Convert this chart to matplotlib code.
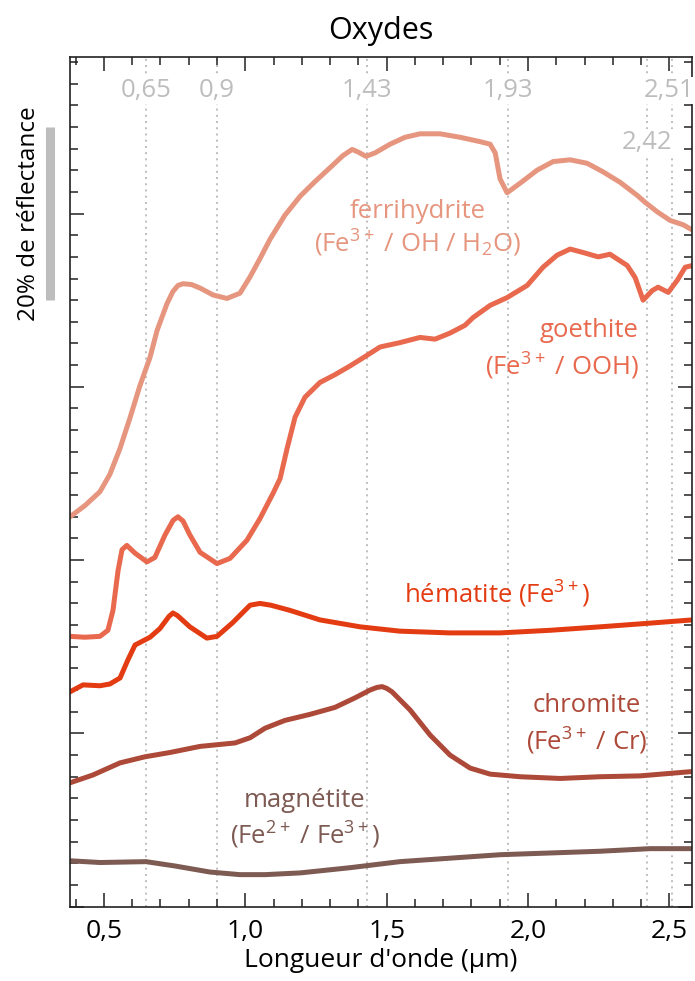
import numpy as np
import matplotlib
matplotlib.use("Agg")
import matplotlib.pyplot as plt
from matplotlib.ticker import MultipleLocator, FixedLocator
import matplotlib.transforms as mtransforms

plt.rcParams['font.family'] = ['Open Sans', 'DejaVu Sans']
plt.rcParams['mathtext.fontset'] = 'custom'
plt.rcParams['mathtext.rm'] = 'Open Sans'
plt.rcParams['mathtext.it'] = 'Open Sans:italic'

# spectres (longueur d'onde en µm, réflectance en % décalée)
ferri_x = [0.380, 0.433, 0.486, 0.521, 0.557, 0.592, 0.627, 0.663, 0.688, 0.723,
           0.744, 0.762, 0.780, 0.810, 0.840, 0.886, 0.935, 0.981, 1.017, 1.052,
           1.087, 1.140, 1.194, 1.247, 1.300, 1.346, 1.378, 1.399, 1.427, 1.459,
           1.512, 1.565, 1.618, 1.689, 1.760, 1.830, 1.866, 1.884, 1.901, 1.926,
           1.972, 2.032, 2.089, 2.149, 2.209, 2.266, 2.326, 2.386, 2.414, 2.457,
           2.503, 2.549, 2.581]
ferri_y = [45.0, 46.3, 47.9, 49.9, 52.9, 56.4, 60.1, 63.4, 66.5, 69.6,
           71.0, 71.7, 71.9, 71.8, 71.4, 70.6, 70.2, 70.8, 72.7, 74.8,
           77.0, 79.8, 82.0, 83.7, 85.3, 86.7, 87.4, 87.1, 86.6, 87.0,
           88.0, 88.8, 89.2, 89.2, 88.8, 88.3, 88.0, 87.0, 84.0, 82.4,
           83.5, 85.0, 86.0, 86.2, 85.8, 84.8, 83.6, 82.1, 81.3, 80.2,
           79.2, 78.7, 78.1]

goe_x = [0.380, 0.433, 0.486, 0.514, 0.532, 0.550, 0.564, 0.581, 0.610, 0.652,
         0.680, 0.716, 0.745, 0.762, 0.780, 0.804, 0.840, 0.900, 0.946, 1.006,
         1.052, 1.098, 1.123, 1.148, 1.176, 1.211, 1.264, 1.317, 1.370, 1.424,
         1.477, 1.547, 1.618, 1.671, 1.724, 1.777, 1.806, 1.866, 1.926, 1.997,
         2.053, 2.103, 2.149, 2.195, 2.248, 2.290, 2.351, 2.379, 2.407, 2.439,
         2.460, 2.496, 2.528, 2.556, 2.581]
goe_y = [31.2, 31.1, 31.2, 31.9, 34.2, 38.8, 41.2, 41.7, 40.8, 39.8,
         40.3, 42.9, 44.6, 45.0, 44.5, 42.9, 40.9, 39.6, 40.2, 42.3,
         44.8, 47.7, 49.4, 52.9, 56.5, 58.8, 60.5, 61.4, 62.4, 63.5,
         64.6, 65.1, 65.7, 65.5, 66.2, 67.1, 68.0, 69.4, 70.3, 71.7,
         73.8, 75.2, 75.9, 75.5, 75.0, 75.3, 74.0, 72.6, 70.0, 71.1,
         71.5, 70.9, 72.3, 73.8, 74.0]

hem_x = [0.380, 0.426, 0.486, 0.521, 0.557, 0.585, 0.610, 0.663, 0.698, 0.730,
         0.744, 0.760, 0.804, 0.864, 0.900, 0.956, 1.017, 1.052, 1.090, 1.158,
         1.264, 1.406, 1.547, 1.724, 1.901, 2.078, 2.255, 2.421, 2.581]
hem_y = [24.8, 25.6, 25.5, 25.7, 26.4, 28.5, 30.2, 31.1, 32.1, 33.5,
         33.9, 33.6, 32.3, 31.0, 31.2, 32.8, 34.8, 35.0, 34.8, 34.2,
         33.1, 32.3, 31.8, 31.6, 31.6, 31.9, 32.3, 32.7, 33.1]

chr_x = [0.380, 0.461, 0.557, 0.645, 0.734, 0.840, 0.964, 1.017, 1.070, 1.140,
         1.229, 1.317, 1.388, 1.441, 1.465, 1.484, 1.500, 1.519, 1.583, 1.654,
         1.724, 1.795, 1.866, 1.972, 2.114, 2.255, 2.397, 2.581]
chr_y = [14.3, 15.2, 16.6, 17.3, 17.8, 18.5, 18.9, 19.5, 20.6, 21.5,
         22.2, 23.0, 24.1, 25.0, 25.3, 25.4, 25.2, 24.8, 22.7, 19.8,
         17.5, 16.0, 15.3, 15.0, 14.8, 15.0, 15.1, 15.6]

mag_x = [0.380, 0.486, 0.649, 0.751, 0.875, 0.981, 1.070, 1.194, 1.370, 1.547,
         1.724, 1.901, 2.078, 2.255, 2.432, 2.581]
mag_y = [5.3, 5.1, 5.2, 4.7, 4.0, 3.7, 3.7, 3.9, 4.5, 5.2,
         5.6, 6.0, 6.2, 6.4, 6.7, 6.7]

# bandes d'absorption repérées
bands = [0.65, 0.9, 1.43, 1.93, 2.42, 2.51]
band_labels = ['0,65', '0,9', '1,43', '1,93', '2,42', '2,51']

colors = {'ferri': '#e6957f', 'goe': '#e8694d', 'hem': '#e43c12',
          'chr': '#ad4938', 'mag': '#7d5a52'}
grey = '#bdbdbd'

fig = plt.figure(figsize=(6.95, 9.81), dpi=100)
ax = fig.add_axes([70 / 695, 1 - 906.7 / 981, 622 / 695, 850 / 981])

for b, lab in zip(bands, band_labels):
    ax.axvline(b, color=grey, lw=1.4, ls=(0, (1, 2.2)), zorder=1)
    ly = 88.2 if lab == '2,42' else 94.2
    lx = b - 0.012 if lab == '2,51' else b
    ax.text(lx, ly, lab, color=grey, fontsize=18.5, ha='center', va='center', zorder=3,
            bbox=dict(boxstyle='square,pad=0.05', fc='white', ec='none'))

lw = 3.6
for xs, ys, key in [(ferri_x, ferri_y, 'ferri'), (goe_x, goe_y, 'goe'), (hem_x, hem_y, 'hem'),
                    (chr_x, chr_y, 'chr'), (mag_x, mag_y, 'mag')]:
    ax.plot(xs, ys, color=colors[key], lw=lw, solid_joinstyle='round', zorder=2)

fs = 18.5
ax.text(1.608, 80.2, 'ferrihydrite', color=colors['ferri'], fontsize=fs, ha='center', va='center')
ax.text(1.608, 76.6, '(Fe$^{3+}$ / OH / H$_2$O)', color=colors['ferri'], fontsize=fs, ha='center', va='center')
ax.text(2.39, 66.5, 'goethite', color=colors['goe'], fontsize=fs, ha='right', va='center')
ax.text(2.39, 62.3, '(Fe$^{3+}$ / OOH)', color=colors['goe'], fontsize=fs, ha='right', va='center')
ax.text(1.891, 36.1, 'hématite (Fe$^{3+}$)', color=colors['hem'], fontsize=fs, ha='center', va='center')
ax.text(2.209, 23.2, 'chromite', color=colors['chr'], fontsize=fs, ha='center', va='center')
ax.text(2.209, 19.1, '(Fe$^{3+}$ / Cr)', color=colors['chr'], fontsize=fs, ha='center', va='center')
ax.text(1.211, 12.2, 'magnétite', color=colors['mag'], fontsize=fs, ha='center', va='center')
ax.text(1.211, 8.2, '(Fe$^{2+}$ / Fe$^{3+}$)', color=colors['mag'], fontsize=fs, ha='center', va='center')

# barre d'échelle : 20 % de réflectance
trans = mtransforms.blended_transform_factory(ax.transAxes, ax.transData)
ax.plot([-0.032, -0.032], [70, 90], color=grey, lw=6.5, solid_capstyle='butt',
        transform=trans, clip_on=False)
fig.text(29 / 695, 1 - 214 / 981, '20% de réflectance', rotation=90, fontsize=17.5,
         ha='center', va='center')

ax.set_xlim(0.38, 2.58)
ax.set_ylim(0, 98.1)
ax.xaxis.set_major_locator(FixedLocator([0.5, 1.0, 1.5, 2.0, 2.5]))
ax.xaxis.set_minor_locator(MultipleLocator(0.1))
ax.yaxis.set_major_locator(MultipleLocator(20))
ax.yaxis.set_minor_locator(MultipleLocator(2.5))
ax.set_xticklabels(['0,5', '1,0', '1,5', '2,0', '2,5'])
ax.tick_params(which='both', direction='in', top=True, right=True, color='#222222', width=1.1)
ax.tick_params(which='major', length=10, labelsize=19, pad=8.5)
ax.tick_params(which='minor', length=5.5)
ax.tick_params(axis='y', labelleft=False)
for s in ax.spines.values():
    s.set_linewidth(1.2)
    s.set_color('#222222')

ax.set_xlabel("Longueur d'onde (µm)", fontsize=19, labelpad=3)
ax.set_title('Oxydes', fontsize=22, pad=13)

fig.savefig('out.png', dpi=100)
